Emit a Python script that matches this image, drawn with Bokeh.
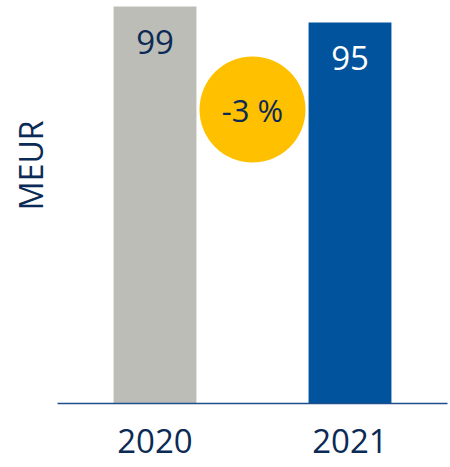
from bokeh.plotting import figure
from bokeh.models import ColumnDataSource, FixedTicker, Range1d, Title
from bokeh.core.properties import value
from bokeh.embed import file_html
from bokeh.resources import INLINE

# ---- data ----
years = [2020, 2021]
year_labels = ["2020", "2021"]
meur = [99, 95]
bar_colors = ["#BDBDB7", "#00539C"]
label_colors = ["#0B2A55", "#FFFFFF"]
change_text = "-3 %"
change_pos_x = 2020.5
change_pos_y = 73.3
unit_label = "MEUR"

FONT = "Open Sans"
NAVY = "#0B2A55"

p = figure(width=450, height=467, output_backend="svg", toolbar_location=None,
           x_range=Range1d(2019.5, 2021.5), y_range=Range1d(0, 100.5),
           min_border_left=57, min_border_right=3, min_border_top=0,
           min_border_bottom=64, y_axis_location=None)
p.outline_line_color = None
p.grid.visible = False
p.background_fill_color = "white"
p.border_fill_color = "white"

src = ColumnDataSource(dict(x=years, top=meur, color=bar_colors,
                            label=[str(v) for v in meur], lcolor=label_colors))
p.vbar(x="x", top="top", bottom=0, width=0.425, fill_color="color",
       line_color=None, source=src)
p.text(x="x", y="top", text="label", text_color="lcolor", source=src,
       text_font=value(FONT), text_font_size="33px", text_align="center",
       text_baseline="middle", y_offset=35)

# change bubble
p.scatter(x=[change_pos_x], y=[change_pos_y], size=106, marker="circle",
          fill_color="#FFC000", line_color=None)
p.text(x=[change_pos_x], y=[change_pos_y], text=[change_text], text_color=NAVY,
       text_font=value(FONT), text_font_size="31px", text_align="center",
       text_baseline="middle")

ax = p.xaxis[0]
ax.ticker = FixedTicker(ticks=years)
ax.major_label_overrides = {y: l for y, l in zip(years, year_labels)}
ax.axis_line_color = "#1F4E8C"
ax.axis_line_width = 1.6
ax.major_tick_line_color = None
ax.minor_tick_line_color = None
ax.major_label_text_font = FONT
ax.major_label_text_font_size = "33px"
ax.major_label_text_color = NAVY
ax.major_label_standoff = 19

p.add_layout(Title(text=unit_label, align="right", offset=120,
                   text_font=FONT, text_font_size="32px", text_color=NAVY,
                   text_font_style="normal", vertical_align="middle"), "left")

open("out.html", "w").write(file_html(p, INLINE))
